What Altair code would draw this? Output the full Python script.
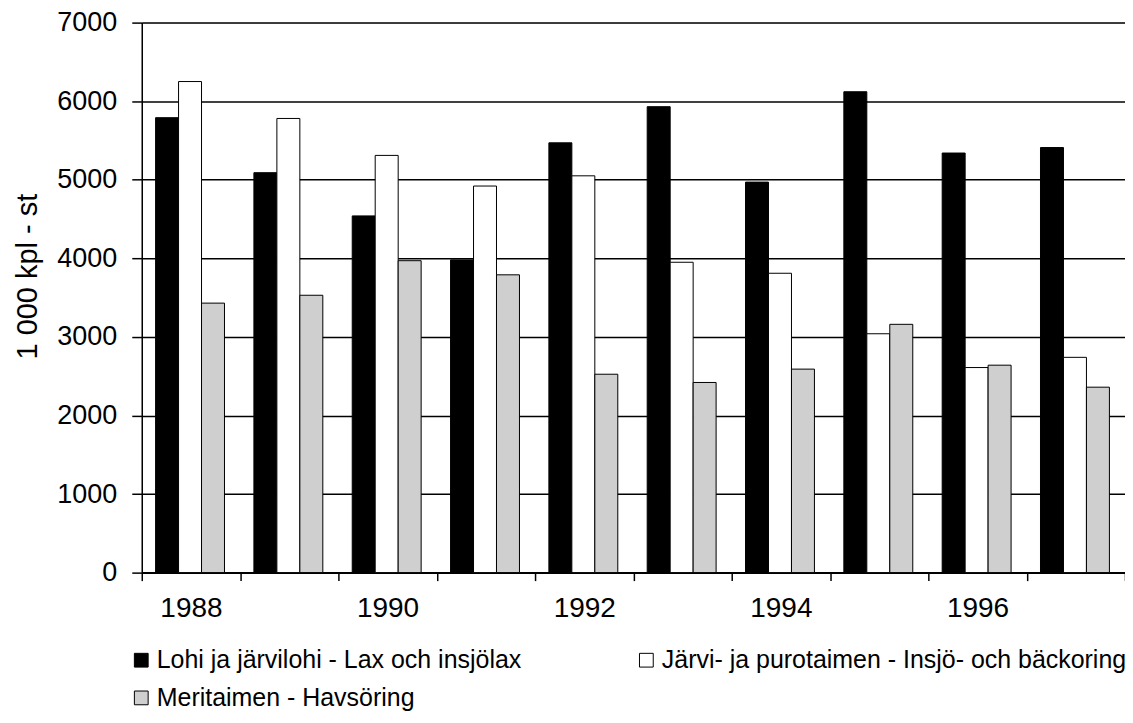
import altair as alt
import pandas as pd

years = ["1988", "1989", "1990", "1991", "1992", "1993", "1994", "1995", "1996", "1997"]
series_names = [
    "Lohi ja järvilohi - Lax och insjölax",
    "Järvi- ja purotaimen - Insjö- och bäckoring",
    "Meritaimen - Havsöring",
]
lohi = [5790, 5090, 4540, 3980, 5470, 5930, 4970, 6120, 5340, 5410]
jarvi = [6250, 5780, 5310, 4920, 5050, 3950, 3810, 3040, 2610, 2740]
meri = [3430, 3530, 3970, 3790, 2525, 2420, 2590, 3160, 2640, 2360]
colors = ["#000000", "#ffffff", "#cfcfcf"]
y_ticks = [0, 1000, 2000, 3000, 4000, 5000, 6000, 7000]

rows = []
for name, vals in zip(series_names, [lohi, jarvi, meri]):
    for yr, v in zip(years, vals):
        rows.append({"year": yr, "series": name, "value": v})
df = pd.DataFrame(rows)

FONT = "Liberation Sans, Arial, sans-serif"

chart = (
    alt.Chart(df)
    .mark_bar(stroke="black", strokeWidth=1)
    .encode(
        x=alt.X(
            "year:O",
            sort=years,
            scale=alt.Scale(paddingInner=0, paddingOuter=0),
            axis=alt.Axis(
                title=None,
                labelAngle=0,
                labelExpr="parseInt(datum.value) % 2 == 0 ? datum.label : ''",
                tickBand="extent",
                tickSize=8,
                tickColor="black",
                tickWidth=1.5,
                domainColor="black",
                domainWidth=2,
                labelFont=FONT,
                labelFontSize=28,
                labelColor="black",
                labelPadding=14,
                grid=False,
            ),
        ),
        xOffset=alt.XOffset(
            "series:N",
            sort=series_names,
            scale=alt.Scale(paddingInner=0, paddingOuter=0.64, align=0.47),
        ),
        y=alt.Y(
            "value:Q",
            scale=alt.Scale(domain=[0, 7000], nice=False),
            axis=alt.Axis(
                values=y_ticks,
                format="d",
                title="1 000 kpl - st",
                titleFont=FONT,
                titleFontSize=29,
                titleFontWeight="normal",
                titleColor="black",
                titleX=-114,
                titleY=254,
                titleBaseline="middle",
                titleAngle=270,
                labelFont=FONT,
                labelFontSize=27,
                labelColor="black",
                labelPadding=15,
                tickSize=10,
                tickColor="black",
                tickWidth=1.5,
                domainColor="black",
                domainWidth=1.5,
                gridColor="black",
                gridWidth=1.5,
                gridOpacity=1,
            ),
        ),
        color=alt.Color(
            "series:N",
            sort=series_names,
            scale=alt.Scale(domain=series_names, range=colors),
            legend=alt.Legend(
                title=None,
                orient="none",
                direction="horizontal",
                legendX=-13,
                legendY=626,
                columns=2,
                columnPadding=112,
                rowPadding=12,
                symbolType="square",
                symbolSize=190,
                symbolStrokeColor="black",
                symbolStrokeWidth=1,
                symbolOpacity=1,
                labelFont=FONT,
                labelFontSize=25,
                labelColor="black",
                labelOffset=3,
                labelLimit=600,
            ),
        ),
    )
    .properties(
        width=985,
        height=551,
        autosize=alt.AutoSizeParams(type="none"),
        padding={"left": 134, "top": 14, "right": 0, "bottom": 140},
    )
    .configure_view(stroke=None)
    .configure(background="white")
)

chart.save("out.html", embed_options={"renderer": "svg", "actions": False})
